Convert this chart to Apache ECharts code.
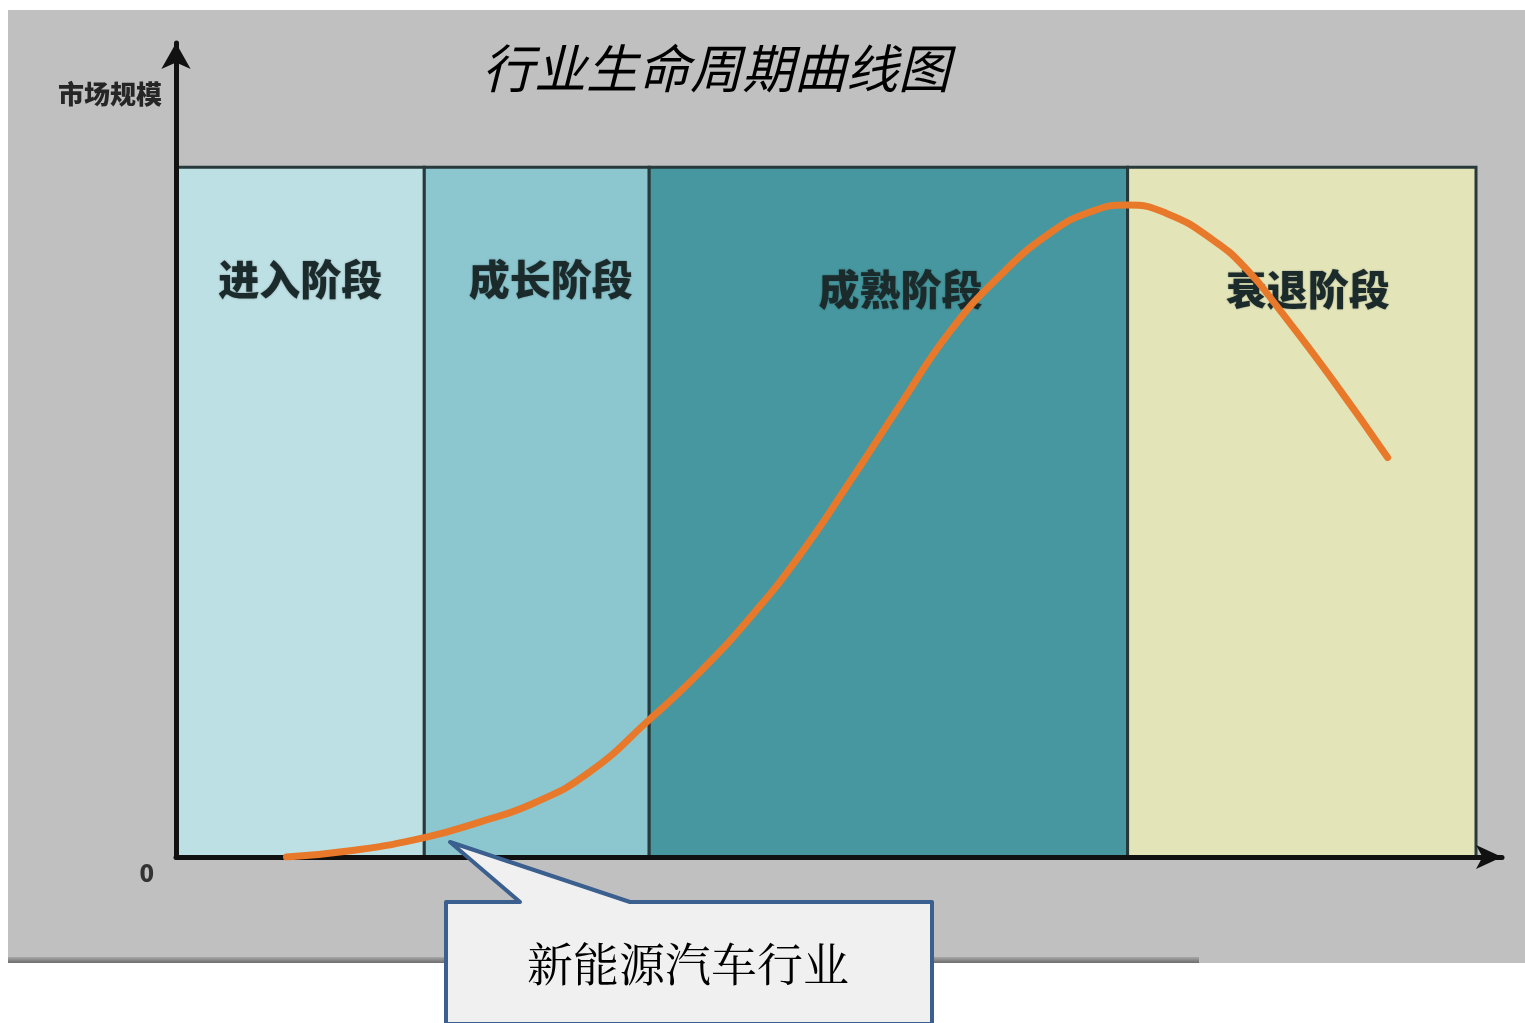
<!DOCTYPE html>
<html>
<head>
<meta charset="utf-8">
<style>
  html, body { margin: 0; padding: 0; background: #ffffff; }
  #chart { width: 1525px; height: 1023px; }
</style>
<script src="https://cdn.jsdelivr.net/npm/echarts@6/dist/echarts.min.js"></script>
</head>
<body>
<div id="chart"></div>
<script>
// Industry life-cycle: stage names and their boundaries along the time axis (0-100)
const stageNames = ['进入阶段', '成长阶段', '成熟阶段', '衰退阶段'];
const stageBounds = [0, 19.1, 36.4, 73.2, 100];

// Market-size curve (relative units, 0-100)
const curveX = [8.5, 13.4, 19.1, 23.4, 27.5, 31.8, 36.4, 40.3, 44.2, 48.0, 51.8, 55.7,
                59.5, 63.4, 67.2, 70.3, 73.2, 76.2, 79.8, 82.4, 84.9, 89.0, 93.2];
const curveY = [0, 0.9, 2.8, 5.1, 7.8, 12.3, 19.9, 26.8, 34.8, 43.8, 54.3, 65.5,
                76.1, 84.3, 90.4, 93.5, 94.5, 93.3, 89.4, 85.1, 79.3, 69.1, 57.9];

// Axis tick label (only the origin is labelled)
const yTickLabels = ['0'];

const stageFill = ['#bde0e5', '#8cc7d0', '#46979f', '#e3e5b9'];
const stageLabelOffset = [[0, 0], [14, 0], [12, 10], [6, 10]];

const chart = echarts.init(document.getElementById('chart'));

const stageAreas = stageNames.map((name, i) => [
  {
    name: name,
    xAxis: stageBounds[i],
    yAxis: 0,
    itemStyle: { color: stageFill[i], borderColor: '#27393a', borderWidth: 3 },
    label: { offset: stageLabelOffset[i] }
  },
  { xAxis: stageBounds[i + 1], yAxis: 100 }
]);

const option = {
  animation: false,
  backgroundColor: '#ffffff',
  graphic: [
    // grey panel behind the chart
    { type: 'rect', z: -10, shape: { x: 8, y: 10, width: 1517, height: 953 },
      style: { fill: '#c0c0c0' } },
    { type: 'rect', z: -9, shape: { x: 8, y: 957, width: 1191, height: 6 },
      style: { fill: new echarts.graphic.LinearGradient(0, 0, 0, 1, [
        { offset: 0, color: '#a8a8a8' }, { offset: 1, color: '#6c6c6c' }]) } },
    // title
    { type: 'text', z: 10, x: 716, y: 68,
      style: { text: '行业生命周期曲线图', textAlign: 'center', textVerticalAlign: 'middle',
        font: 'italic 52px "Noto Sans CJK SC"', fill: '#000000' } },
    // y axis caption
    { type: 'text', z: 10, x: 110, y: 94,
      style: { text: '市场规模', textAlign: 'center', textVerticalAlign: 'middle',
        font: '900 26px "Noto Sans CJK SC"', fill: '#262626',
        shadowBlur: 2, shadowColor: 'rgba(0,0,0,0.35)' } },
    // callout box
    { type: 'polygon', z: 20,
      shape: { points: [[446, 902], [520, 902], [450, 842], [630, 902], [932, 902], [932, 1024], [446, 1024]] },
      style: { fill: '#f0f0f0', stroke: '#3b5f8e', lineWidth: 4, lineJoin: 'round' } },
    { type: 'text', z: 21, x: 688, y: 964,
      style: { text: '新能源汽车行业', textAlign: 'center', textVerticalAlign: 'middle',
        font: '46px "Noto Serif CJK SC", "Noto Sans CJK SC"', fill: '#000000' } }
  ],
  grid: { left: 176, right: 23, top: 43, bottom: 166, containLabel: false },
  xAxis: {
    type: 'value', min: 0, max: 102, z: 5,
    axisLine: { show: true, symbol: ['none', 'arrow'], symbolSize: [18, 26],
      lineStyle: { color: '#111111', width: 5 } },
    axisTick: { show: false }, axisLabel: { show: false }, splitLine: { show: false }
  },
  yAxis: {
    type: 'value', min: 0, max: 118, interval: 118, z: 5,
    axisLine: { show: true, symbol: ['none', 'arrow'], symbolSize: [22, 26],
      lineStyle: { color: '#111111', width: 5 } },
    axisTick: { show: false }, splitLine: { show: false },
    axisLabel: {
      show: true, margin: 22, verticalAlign: 'top', padding: [4, 0, 0, 0],
      formatter: v => (v === 0 ? yTickLabels[0] : ''),
      fontFamily: '"Noto Sans CJK SC"', fontWeight: 900, fontSize: 24, color: '#333333'
    }
  },
  series: [
    {
      name: 'stages', type: 'line', z: 1, data: [], silent: true,
      markArea: {
        silent: true,
        label: {
          show: true, position: 'insideTop', distance: 93,
          fontFamily: '"Noto Sans CJK SC"', fontWeight: 900, fontSize: 41, color: '#1b2a2a',
          textShadowBlur: 2, textShadowColor: 'rgba(0,0,0,0.35)'
        },
        data: stageAreas
      }
    },
    {
      name: '市场规模', type: 'line', z: 8, smooth: 0.5,
      showSymbol: false, silent: true,
      lineStyle: { color: '#e8792a', width: 7, cap: 'round', join: 'round' },
      data: curveX.map((x, i) => [x, curveY[i]])
    }
  ]
};

chart.setOption(option);
</script>
</body>
</html>
